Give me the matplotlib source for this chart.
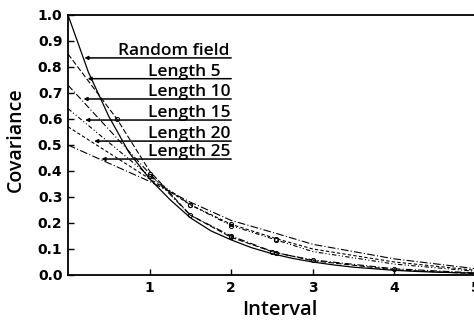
import matplotlib
matplotlib.use("Agg")
import matplotlib.pyplot as plt

# values
rf_x = [0, 0.25, 0.5, 0.75, 1.0, 1.25, 1.5, 1.75, 2.0, 2.25, 2.5, 2.75, 3.0,
        3.25, 3.5, 3.75, 4.0, 4.25, 4.5, 4.75, 5.0]
rf_y = [1.0, 0.78, 0.61, 0.47, 0.37, 0.29, 0.22, 0.17, 0.135, 0.105, 0.082,
        0.064, 0.05, 0.039, 0.03, 0.024, 0.018, 0.014, 0.011, 0.009, 0.007]

len5_x = [0, 0.6, 1.0, 1.5, 2.0, 2.5, 3.0, 4.0, 5.0]
len5_y = [0.85, 0.60, 0.40, 0.23, 0.145, 0.09, 0.055, 0.02, 0.005]

len_x = [0, 1.0, 1.5, 2.0, 2.55, 3.0, 4.0, 5.0]
len10_y = [0.73, 0.39, 0.23, 0.15, 0.085, 0.058, 0.024, 0.008]
len15_y = [0.64, 0.38, 0.27, 0.19, 0.135, 0.09, 0.042, 0.014]
len20_y = [0.57, 0.37, 0.27, 0.195, 0.14, 0.10, 0.05, 0.018]
len25_y = [0.50, 0.36, 0.28, 0.21, 0.16, 0.118, 0.062, 0.024]

labels = ["Random field", "Length 5", "Length 10", "Length 15", "Length 20", "Length 25"]
label_right = [1.98, 1.87, 1.99, 1.99, 1.99, 1.99]   # right edge of each label
leader_y = [0.835, 0.755, 0.677, 0.596, 0.515, 0.446]
leader_tip = [0.20, 0.24, 0.19, 0.21, 0.32, 0.41]   # where each leader points

fig = plt.figure(figsize=(4.74, 3.22), dpi=100)
ax = fig.add_axes([68 / 474, 47 / 322, 408 / 474, 260 / 322])

ax.plot(rf_x, rf_y, color="black", lw=0.9, ls="-")
ax.plot(len5_x, len5_y, color="black", lw=0.8, ls=(0, (5, 2)),
        marker="o", ms=3, mfc="none", mew=0.7, markevery=[1, 3, 4, 5])
ax.plot(len_x, len10_y, color="black", lw=0.8, ls=(0, (6, 2, 1, 2)),
        marker="o", ms=3, mfc="none", mew=0.7, markevery=[1, 3, 4, 5, 6])
ax.plot(len_x, len15_y, color="black", lw=0.8, ls=(0, (4, 2, 1, 2, 1, 2)),
        marker="o", ms=3, mfc="none", mew=0.7, markevery=[1, 2, 3, 4])
ax.plot(len_x, len20_y, color="black", lw=0.8, ls=(0, (3, 2)),
        marker="o", ms=3, mfc="none", mew=0.7, markevery=[2, 3, 4])
ax.plot(len_x, len25_y, color="black", lw=0.8, ls=(0, (7, 2, 1, 2)))

# leader lines with labels sitting on them
for lab, rx, ly, tip in zip(labels, label_right, leader_y, leader_tip):
    ax.annotate("", xy=(tip, ly), xytext=(2.0, ly),
                arrowprops=dict(arrowstyle="-|>", color="black", lw=1.1,
                                mutation_scale=5, shrinkA=0, shrinkB=0))
    ax.text(rx, ly + 0.012, lab, fontsize=12.5, family="Open Sans",
            fontweight="semibold", ha="right", va="baseline")

ax.set_xlim(0, 5)
ax.set_ylim(0, 1.0)
ax.set_xticks([1, 2, 3, 4, 5])
ax.set_yticks([0.0, 0.1, 0.2, 0.3, 0.4, 0.5, 0.6, 0.7, 0.8, 0.9, 1.0])
ax.set_yticklabels(["0.0", "0.1", "0.2", "0.3", "0.4", "0.5", "0.6", "0.7", "0.8", "0.9", "1.0"])
ax.tick_params(direction="in", length=4, width=1, pad=4)
for t in ax.get_xticklabels() + ax.get_yticklabels():
    t.set_fontweight("bold")
    t.set_fontsize(10)
    t.set_family("DejaVu Sans")

for side in ["left", "bottom", "top"]:
    ax.spines[side].set_linewidth(1.3)
ax.spines["right"].set_visible(False)

ax.set_xlabel("Interval", fontsize=14.5, family="Open Sans", fontweight="semibold")
ax.set_ylabel("Covariance", fontsize=14, family="Open Sans", fontweight="semibold")
ax.xaxis.set_label_coords(0.52, -0.095)
ax.yaxis.set_label_coords(-0.103, 0.52)

fig.savefig("out.png", dpi=100)
